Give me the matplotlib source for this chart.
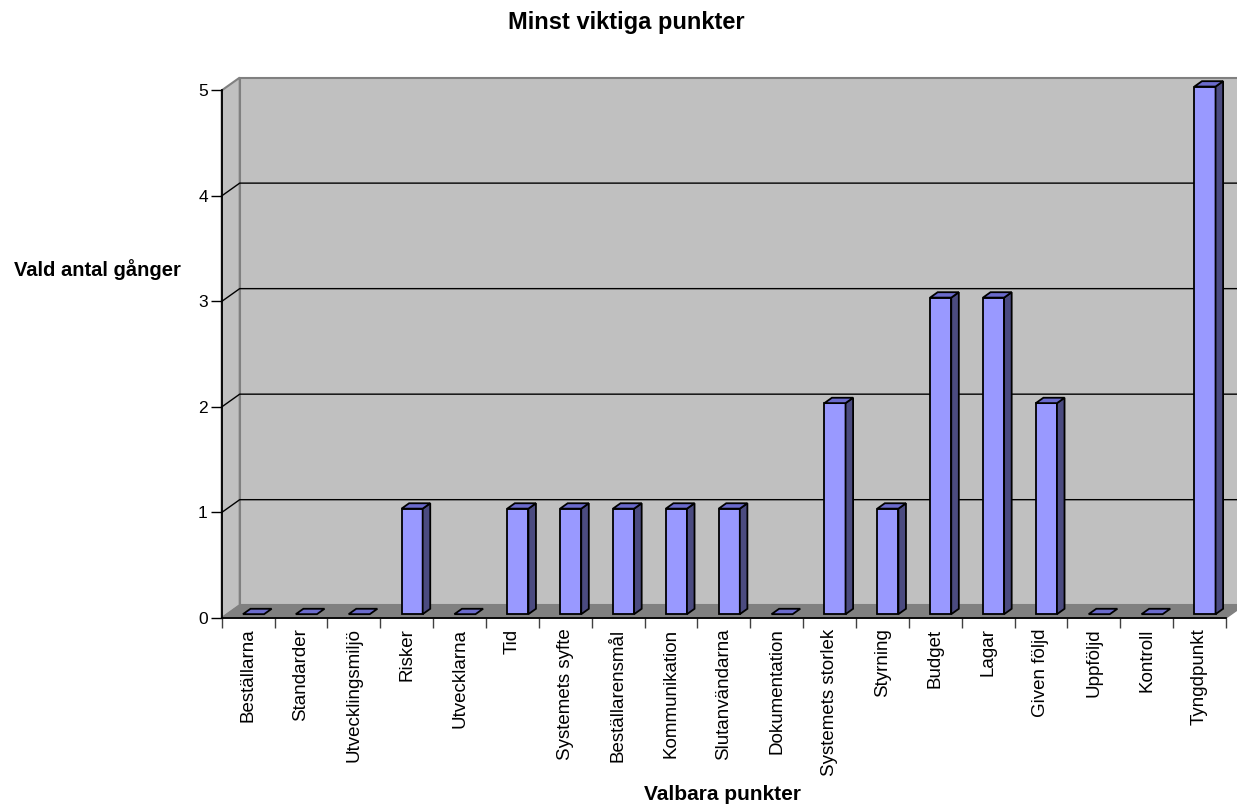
import numpy as np
import matplotlib
matplotlib.use("Agg")
import matplotlib.pyplot as plt
from matplotlib.patches import Polygon

plt.rcParams['font.family'] = ['Liberation Sans', 'DejaVu Sans']

# Data
categories = ['Beställarna', 'Standarder', 'Utvecklingsmiljö', 'Risker', 'Utvecklarna',
              'Tid', 'Systemets syfte', 'Beställarensmål', 'Kommunikation', 'Slutanvändarna',
              'Dokumentation', 'Systemets storlek', 'Styrning', 'Budget', 'Lagar',
              'Given följd', 'Uppföljd', 'Kontroll', 'Tyngdpunkt']
counts = [0, 0, 0, 1, 0, 1, 1, 1, 1, 1, 0, 2, 1, 3, 3, 2, 0, 0, 5]
yticks = [0, 1, 2, 3, 4, 5]

W, H = 1237, 805
fig = plt.figure(figsize=(W / 100, H / 100), dpi=100)
# front plot rectangle (pixels)
left, right, top, bottom = 221.7, 1226, 90.4, 618
ax = fig.add_axes([left / W, (H - bottom) / H, (right - left) / W, (bottom - top) / H])
n = len(categories)
ax.set_xlim(0, n)
ax.set_ylim(0, 5)
ax.patch.set_visible(False)

# 3d depth offset in data units
DX = 18 / ((right - left) / n)
DY = 12.8 / ((bottom - top) / 5)

wall = '#c0c0c0'
edge = '#808080'

def poly(pts, fc, ec, lw=1.0, z=1):
    ax.add_patch(Polygon(pts, closed=True, facecolor=fc, edgecolor=ec, lw=lw,
                         zorder=z, clip_on=False, joinstyle='miter'))

# walls and floor
poly([(DX, DY), (n + DX, DY), (n + DX, 5 + DY), (DX, 5 + DY)], wall, edge, 1.5, 0.5)
poly([(0, 0), (DX, DY), (DX, 5 + DY), (0, 5)], wall, edge, 1.5, 0.6)
poly([(0, 0), (n, 0), (n + DX, DY), (DX, DY)], '#808080', edge, 1.0, 0.7)

# gridlines on back and side wall
for k in yticks[1:-1]:
    ax.plot([0, DX, n + DX], [k, k + DY, k + DY], color='black', lw=1.0,
            zorder=0.8, clip_on=False)

# bars
front_c, side_c, top_c = '#9999ff', '#4b4b80', '#6b6bcc'
bw = 0.4
z0, z1 = 0.3, 0.72
for i, v in enumerate(counts):
    c = i + 0.5
    x0 = c - bw / 2 + z0 * DX
    x1 = c + bw / 2 + z0 * DX
    y0 = z0 * DY
    ddx = (z1 - z0) * DX
    ddy = (z1 - z0) * DY
    if v > 0:
        poly([(x0, y0), (x1, y0), (x1, y0 + v), (x0, y0 + v)], front_c, 'black', 1.3, 3)
        poly([(x1, y0), (x1 + ddx, y0 + ddy), (x1 + ddx, y0 + ddy + v), (x1, y0 + v)],
             side_c, 'black', 1.3, 3)
    poly([(x0, y0 + v), (x1, y0 + v), (x1 + ddx, y0 + ddy + v), (x0 + ddx, y0 + ddy + v)],
         top_c, 'black', 1.3, 3)

# axes lines and ticks
for s in ['top', 'right']:
    ax.spines[s].set_visible(False)
ax.spines['left'].set_linewidth(1.3)
ax.spines['bottom'].set_linewidth(1.3)
ax.spines['left'].set_zorder(2)
ax.spines['bottom'].set_zorder(2)
ax.set_yticks(yticks)
ax.set_yticklabels([str(t) for t in yticks], fontsize=12.5)
ax.tick_params(axis='y', length=8, width=1.0, pad=2, color='black')
ax.set_xticks(np.arange(n + 1))
ax.set_xticklabels([])
ax.tick_params(axis='x', which='major', length=7.5, width=1.0, color='#404040')
ax.set_xticks(np.arange(n) + 0.5, minor=True)
ax.set_xticklabels(categories, minor=True, rotation=90, fontsize=13.5, va='top')
ax.tick_params(axis='x', which='minor', length=0, pad=7.5)

fig.text(626 / W, 1 - 23 / H, 'Minst viktiga punkter', ha='center', va='center',
         fontsize=17, fontweight='bold')
fig.text(97 / W, 1 - 270 / H, 'Vald antal gånger', ha='center', va='center',
         fontsize=14.5, fontweight='bold')
fig.text(723 / W, 1 - 794 / H, 'Valbara punkter', ha='center', va='center',
         fontsize=15, fontweight='bold')

fig.savefig('out.png', dpi=100)
